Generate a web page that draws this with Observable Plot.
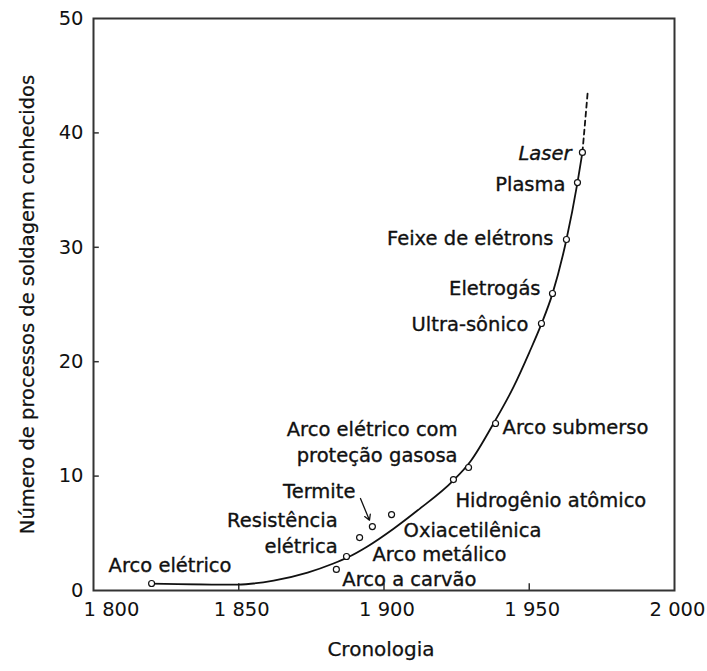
<!DOCTYPE html>
<html>
<head>
<meta charset="utf-8">
<script src="https://cdn.jsdelivr.net/npm/d3@7"></script>
<script src="https://cdn.jsdelivr.net/npm/@observablehq/plot@0.6"></script>
<style>
  html, body { margin: 0; padding: 0; background: #fff; }
</style>
</head>
<body>
<div id="chart"></div>
<script>
// ---- data ----
const processNames = [
  "Arco elétrico", "Arco a carvão", "Arco metálico", "Resistência\nelétrica",
  "Termite", "Oxiacetilênica", "Hidrogênio atômico", "Arco elétrico com\nproteção gasosa",
  "Arco submerso", "Ultra-sônico", "Eletrogás", "Feixe de elétrons", "Plasma", "Laser"
];
const processYears  = [1820, 1883.6, 1887.1, 1891.6, 1896.0, 1902.6, 1923.9, 1929.1, 1938.4, 1954.2, 1958.0, 1962.8, 1966.6, 1968.3];
const processCounts = [0.61, 1.84, 2.97, 4.63, 5.59, 6.64, 9.70, 10.75, 14.6, 23.34, 25.96, 30.68, 35.66, 38.29];

const curveYears  = [1819.6, 1849.6, 1862.0, 1873.7, 1882.6, 1887.4, 1894.3, 1903.3, 1911.5, 1923.9, 1929.8, 1937.7, 1944.6, 1950.0, 1954.2, 1958.0, 1962.8, 1966.6, 1968.3];
const curveCounts = [0.61, 0.52, 0.87, 1.57, 2.36, 2.88, 3.85, 5.40, 6.99, 9.62, 11.3, 14.6, 17.8, 20.8, 23.3, 25.95, 30.68, 35.66, 38.29];

const trendYears  = [1968.3, 1970.1];
const trendCounts = [38.29, 43.5];

const xTicks = [1800, 1850, 1900, 1950, 2000];
const xTickLabels = ["1 800", "1 850", "1 900", "1 950", "2 000"];
const yTicks = [0, 10, 20, 30, 40, 50];

const xLabel = "Cronologia";
const yLabel = "Número de processos de soldagem conhecidos";

// ---- layout (label placement relative to each point, in pixels) ----
const labelLayout = [
  {anchor: "start", dx: -43, dy: -20},
  {anchor: "start", dx: 6,   dy: 8},
  {anchor: "start", dx: 26,  dy: -4},
  {anchor: "end",   dx: -22, dy: -6},
  {anchor: "end",   dx: -17, dy: -37},
  {anchor: "start", dx: 12,  dy: 14},
  {anchor: "start", dx: 2,   dy: 19},
  {anchor: "end",   dx: -11, dy: -27},
  {anchor: "start", dx: 7,   dy: 2},
  {anchor: "end",   dx: -13, dy: -1},
  {anchor: "end",   dx: -12, dy: -7},
  {anchor: "end",   dx: -13, dy: -3},
  {anchor: "end",   dx: -12, dy: 0},
  {anchor: "end",   dx: -11, dy: -1}
];

const points = processNames.map((name, i) => ({name, x: processYears[i], y: processCounts[i], i}));
const curve = curveYears.map((x, i) => ({x, y: curveCounts[i]}));
const trend = trendYears.map((x, i) => ({x, y: trendCounts[i]}));
const tickLabel = d => xTickLabels[xTicks.indexOf(d)];

const ink = "#111";
const fontSize = 19.5;
const textBold = {stroke: ink, strokeWidth: 0.35};

const labelMarks = labelLayout.map((L, i) =>
  Plot.text([points[i]], {
    x: "x", y: "y", text: "name",
    textAnchor: L.anchor, dx: L.dx, dy: L.dy,
    lineHeight: 1.35,
    fontStyle: points[i].name === "Laser" ? "italic" : "normal",
    fill: ink, fontSize, ...textBold
  })
);

const termite = points.filter(d => d.name === "Termite");

const chart = Plot.plot({
  width: 707,
  height: 671,
  marginLeft: 93,
  marginRight: 33,
  marginTop: 18,
  marginBottom: 81,
  x: {domain: [1800, 2000], label: null},
  y: {domain: [0, 50], label: null},
  style: {fontFamily: "'DejaVu Sans', sans-serif", fontSize: fontSize + "px", color: ink, background: "#fff"},
  marks: [
    Plot.frame({stroke: "#333", strokeWidth: 2}),
    // inner ticks
    Plot.ruleX(xTicks.slice(1, -1), {x: d => d, y1: 0, y2: 0.6, stroke: "#333", strokeWidth: 1.5}),
    Plot.ruleY(yTicks.slice(1, -1), {y: d => d, x1: 1800, x2: 1802, stroke: "#333", strokeWidth: 1.5}),
    // tick labels
    Plot.axisX([xTicks[0]], {anchor: "bottom", tickSize: 0, tickPadding: 12, dx: 18, tickFormat: tickLabel, fontSize, fill: ink, label: null, ...textBold}),
    Plot.axisX(xTicks.slice(1), {anchor: "bottom", tickSize: 0, tickPadding: 12, dx: 3, tickFormat: tickLabel, fontSize, fill: ink, label: null, ...textBold}),
    Plot.axisY(yTicks, {anchor: "left", tickSize: 0, tickPadding: 10, fontSize, fill: ink, label: null, ...textBold}),
    // axis titles
    Plot.text([xLabel], {frameAnchor: "bottom", textAnchor: "middle", dy: 65, dx: -3, fill: ink, fontSize: 20, stroke: ink, strokeWidth: 0.25}),
    Plot.text([yLabel], {frameAnchor: "left", textAnchor: "middle", rotate: -90, dx: -66, fill: ink, fontSize: 19.5, stroke: ink, strokeWidth: 0.25}),
    // curve
    Plot.line(curve, {x: "x", y: "y", curve: "monotone-x", stroke: ink, strokeWidth: 1.8}),
    Plot.line(trend, {x: "x", y: "y", stroke: ink, strokeWidth: 1.8, strokeDasharray: "5,4"}),
    // Termite arrow
    Plot.arrow(termite, {x1: d => d.x - 4.1, y1: d => d.y + 2.45, x2: d => d.x - 1, y2: d => d.y + 0.55, stroke: ink, strokeWidth: 1.3, headLength: 7}),
    // points
    Plot.dot(points, {x: "x", y: "y", r: 3, stroke: ink, strokeWidth: 1.2, fill: "#fff"}),
    ...labelMarks
  ]
});

document.getElementById("chart").appendChild(chart);
</script>
</body>
</html>
